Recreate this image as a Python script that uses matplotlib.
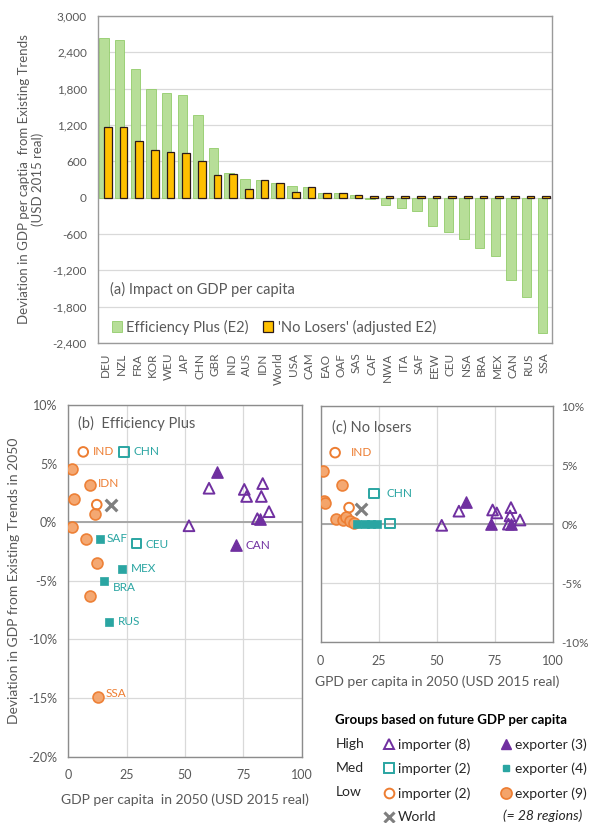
import numpy as np
import matplotlib.pyplot as plt
from matplotlib.lines import Line2D
from matplotlib.ticker import FuncFormatter

plt.rcParams['font.family'] = ['Lato', 'DejaVu Sans']

GREY = '#595959'
GRID = '#D9D9D9'
FRAME = '#8C8C8C'
ORANGE = '#ED7D31'
ORANGE_FILL = '#F4A46A'
TEAL = '#2AA5A2'
PURPLE = '#7030A0'

# (a) deviation in GDP per capita, USD 2015
regions = ['DEU', 'NZL', 'FRA', 'KOR', 'WEU', 'JAP', 'CHN', 'GBR', 'IND', 'AUS',
           'IDN', 'World', 'USA', 'CAM', 'EAO', 'OAF', 'SAS', 'CAF', 'NWA', 'ITA',
           'SAF', 'EEW', 'CEU', 'NSA', 'BRA', 'MEX', 'CAN', 'RUS', 'SSA']
eff_plus = [2640, 2610, 2120, 1790, 1730, 1700, 1370, 820, 400, 310,
            300, 250, 195, 175, 75, 80, 45, -20, -120, -165,
            -220, -460, -560, -675, -835, -965, -1360, -1645, -2230]
no_losers = [1170, 1160, 940, 790, 760, 740, 610, 370, 390, 135,
             290, 235, 90, 170, 75, 75, 40, 25, 25, 25,
             25, 25, 25, 25, 25, 25, 25, 25, 25]

# (b) Efficiency Plus: GDP per capita 2050 (x) vs deviation in % (y)
b_hi_imp_x = [51.7, 60.3, 75.4, 76.4, 83.3, 82.7, 86.0, 81.0]
b_hi_imp_y = [-0.3, 2.9, 2.8, 2.2, 3.3, 2.2, 0.9, 0.3]
b_hi_exp_x = [63.6, 71.9, 82.0]
b_hi_exp_y = [4.3, -1.9, 0.3]
b_med_imp_x = [23.9, 29.3]
b_med_imp_y = [6.0, -1.8]
b_med_exp_x = [13.6, 23.1, 15.4, 17.3]
b_med_exp_y = [-1.4, -4.0, -5.0, -8.5]
b_low_imp_x = [6.4, 12.2]
b_low_imp_y = [6.0, 1.5]
b_low_exp_x = [1.5, 9.3, 2.4, 11.4, 1.7, 7.4, 12.4, 9.3, 12.6]
b_low_exp_y = [4.5, 3.2, 2.0, 0.7, -0.4, -1.4, -3.5, -6.3, -14.9]
b_world = (18.3, 1.45)

# (c) No losers
c_hi_imp_x = [52.1, 59.5, 74.0, 75.8, 81.9, 81.5, 85.8, 80.8]
c_hi_imp_y = [-0.1, 1.1, 1.2, 0.95, 1.4, 0.7, 0.35, 0.0]
c_hi_exp_x = [62.4, 73.2, 81.8]
c_hi_exp_y = [1.9, 0.0, 0.0]
c_med_imp_x = [22.9, 29.8]
c_med_imp_y = [2.6, 0.05]
c_med_exp_x = [15.5, 19.1, 21.7, 24.1]
c_med_exp_y = [0.05, 0.05, 0.05, 0.05]
c_low_imp_x = [6.2, 12.2]
c_low_imp_y = [6.05, 1.4]
c_low_exp_x = [0.9, 9.0, 1.6, 1.9, 6.6, 9.7, 11.0, 12.4, 14.5]
c_low_exp_y = [4.5, 3.3, 2.0, 1.8, 0.4, 0.35, 0.6, 0.3, 0.1]
c_world = (17.3, 1.3)

# labelled points: (name, x, y, dx, dy in points, colour)
b_labels = [('IND', 6.4, 6.0, 7, 0, ORANGE), ('CHN', 23.9, 6.0, 6.5, 0, TEAL),
            ('IDN', 9.3, 3.2, 6, 1, ORANGE), ('SAF', 13.6, -1.4, 5, 0, TEAL),
            ('CEU', 29.3, -1.8, 6, -1, TEAL), ('MEX', 23.1, -4.0, 6.5, 0.5, TEAL),
            ('BRA', 15.4, -5.0, 6.5, -5, TEAL), ('RUS', 17.3, -8.5, 6.5, 0, TEAL),
            ('SSA', 12.6, -14.9, 6, 2.5, ORANGE), ('CAN', 71.9, -1.9, 7, -0.5, PURPLE)]
c_labels = [('IND', 6.2, 6.05, 11, 0, ORANGE), ('CHN', 22.9, 2.6, 9, 0, TEAL)]

W, H = 590, 823
fig = plt.figure(figsize=(W / 100, H / 100), dpi=100)


def px_axes(l, t, r, b):
    return fig.add_axes([l / W, 1 - b / H, (r - l) / W, (b - t) / H])


def frame(ax, color=FRAME):
    for s in ax.spines.values():
        s.set_color(color)
        s.set_linewidth(1.0)


# ---- (a) bar chart ----
ax = px_axes(98, 16, 552, 343)
x = np.arange(len(regions))
ax.bar(x - 0.12, eff_plus, width=0.6, color='#B7DE98', edgecolor='#92CC6A',
       linewidth=0.6, label='Efficiency Plus (E2)', zorder=2)
ax.bar(x + 0.13, no_losers, width=0.49, color='#FFC000', edgecolor='#2B1A1A',
       linewidth=0.9, label="'No Losers' (adjusted E2)", zorder=3)
ax.set_xlim(-0.5, len(regions) - 0.5)
ax.set_ylim(-2400, 3000)
ax.set_yticks(np.arange(-2400, 3001, 600))
ax.yaxis.set_major_formatter(FuncFormatter(lambda v, p: f'{v:,.0f}'))
ax.set_xticks(x)
ax.set_xticklabels(regions, rotation=90, fontsize=8.5)
ax.tick_params(axis='x', length=0, pad=7, colors=GREY)
ax.tick_params(axis='y', length=0, pad=8, labelsize=8.5, colors=GREY)
ax.yaxis.grid(True, color=GRID, linewidth=0.9)
ax.set_axisbelow(True)
frame(ax, '#9A9A9A')
ax.set_ylabel('Deviation in GDP per captia  from Existing Trends\n(USD 2015 real)',
              fontsize=9.5, color=GREY, labelpad=6, linespacing=1.1)
ax.text(0.027, 0.165, '(a) Impact on GDP per capita', transform=ax.transAxes,
        va='center', fontsize=10.5, color=GREY)
ax.legend(loc='center left', bbox_to_anchor=(0.03, 0.049), ncol=2, frameon=False,
          fontsize=10.5, handlelength=0.7, handleheight=0.7, handletextpad=0.3,
          columnspacing=1.0, borderpad=0, borderaxespad=0, labelcolor=GREY)


def scatter_groups(ax, d):
    (hix, hiy, hex_, hey, mix, miy, mex, mey, lix, liy, lex, ley, world) = d
    ax.scatter(lex, ley, s=62, marker='o', facecolor=ORANGE_FILL, edgecolor=ORANGE,
               linewidth=1.2, alpha=0.95, zorder=3)
    ax.scatter(lix, liy, s=48, marker='o', facecolor='none', edgecolor=ORANGE,
               linewidth=1.4, zorder=4)
    ax.scatter(mex, mey, s=30, marker='s', facecolor=TEAL, edgecolor=TEAL,
               linewidth=0.5, zorder=4)
    ax.scatter(mix, miy, s=48, marker='s', facecolor='none', edgecolor=TEAL,
               linewidth=1.4, zorder=4)
    ax.scatter(hix, hiy, s=60, marker='^', facecolor='none', edgecolor=PURPLE,
               linewidth=1.4, zorder=4)
    ax.scatter(hex_, hey, s=66, marker='^', facecolor=PURPLE, edgecolor=PURPLE,
               linewidth=1.0, zorder=4)
    ax.scatter([world[0]], [world[1]], s=70, marker='x', color='#7F7F7F',
               linewidth=2.3, zorder=5)


def scatter_axes(ax, ylo, yhi):
    ax.set_xlim(0, 100)
    ax.set_ylim(ylo, yhi)
    ax.set_xticks([0, 25, 50, 75, 100])
    ax.set_yticks(np.arange(ylo, yhi + 1, 5))
    ax.yaxis.set_major_formatter(FuncFormatter(lambda v, p: f'{v:.0f}%'))
    ax.grid(True, color=GRID, linewidth=0.9)
    ax.set_axisbelow(True)
    ax.axhline(0, color='#A6A6A6', linewidth=1.4, zorder=1)
    ax.tick_params(length=0, labelsize=9, colors=GREY)
    ax.tick_params(axis='x', pad=9)
    frame(ax)


# ---- (b) Efficiency Plus ----
axb = px_axes(68.3, 405, 301.7, 756.7)
scatter_axes(axb, -20, 10)
axb.tick_params(axis='y', pad=8)
scatter_groups(axb, (b_hi_imp_x, b_hi_imp_y, b_hi_exp_x, b_hi_exp_y,
                     b_med_imp_x, b_med_imp_y, b_med_exp_x, b_med_exp_y,
                     b_low_imp_x, b_low_imp_y, b_low_exp_x, b_low_exp_y, b_world))
for name, px_, py_, dx, dy, col in b_labels:
    axb.annotate(name, (px_, py_), xytext=(dx, dy), textcoords='offset points',
                 va='center', ha='left', fontsize=8.5, color=col)
axb.text(0.04, 0.948, '(b)  Efficiency Plus', transform=axb.transAxes,
         va='center', fontsize=10.5, color=GREY)
axb.set_xlabel('GDP per capita  in 2050 (USD 2015 real)', fontsize=10,
               color=GREY, labelpad=9)
axb.set_ylabel('Deviation in GDP from Existing Trends in 2050', fontsize=10,
               color=GREY, labelpad=6)

# ---- (c) No losers ----
axc = px_axes(320.7, 406, 553, 642.3)
scatter_axes(axc, -10, 10)
axc.yaxis.tick_right()
axc.tick_params(axis='y', pad=6, labelsize=8.5)
scatter_groups(axc, (c_hi_imp_x, c_hi_imp_y, c_hi_exp_x, c_hi_exp_y,
                     c_med_imp_x, c_med_imp_y, c_med_exp_x, c_med_exp_y,
                     c_low_imp_x, c_low_imp_y, c_low_exp_x, c_low_exp_y, c_world))
for name, px_, py_, dx, dy, col in c_labels:
    axc.annotate(name, (px_, py_), xytext=(dx, dy), textcoords='offset points',
                 va='center', ha='left', fontsize=8.5, color=col)
axc.text(0.05, 0.91, '(c) No losers', transform=axc.transAxes,
         va='center', fontsize=10.5, color=GREY)
axc.set_xlabel('GPD per capita in 2050 (USD 2015 real)', fontsize=10,
               color=GREY, labelpad=6)

# ---- group legend ----
fig.text(335 / W, 1 - 720 / H, 'Groups based on future GDP per capita',
         fontsize=9.5, fontweight='bold', va='center', color='black')
for lab, yy in [('High', 744.3), ('Med', 767.7), ('Low', 792.3)]:
    fig.text(335.5 / W, 1 - yy / H, lab, fontsize=10, va='center', color='#262626')
fig.text(503 / W, 1 - 815.7 / H, '(= 28 regions)', fontsize=10, style='italic',
         va='center', color='#262626')

handles = [
    Line2D([], [], ls='none', marker='^', ms=7, mfc='none', mec=PURPLE, mew=1.4),
    Line2D([], [], ls='none', marker='s', ms=6.5, mfc='none', mec=TEAL, mew=1.4),
    Line2D([], [], ls='none', marker='o', ms=7, mfc='none', mec=ORANGE, mew=1.4),
    Line2D([], [], ls='none', marker='x', ms=7, color='#7F7F7F', mew=2.2),
    Line2D([], [], ls='none', marker='^', ms=7.5, mfc=PURPLE, mec=PURPLE),
    Line2D([], [], ls='none', marker='s', ms=5, mfc=TEAL, mec=TEAL),
    Line2D([], [], ls='none', marker='o', ms=8, mfc=ORANGE_FILL, mec=ORANGE, mew=1.2),
    Line2D([], [], ls='none'),
]
labels = ['importer (8)', 'importer (2)', 'importer (2)', 'World',
          'exporter (3)', 'exporter (4)', 'exporter (9)', '']
fig.legend(handles, labels, ncol=2, loc='upper left',
           bbox_to_anchor=(383 / W, 1 - 738 / H), frameon=False, fontsize=10,
           handlelength=0.8, handletextpad=0.25, columnspacing=2.2,
           labelspacing=0.86, borderpad=0, borderaxespad=0, labelcolor='#262626')

fig.savefig('out.png', dpi=100)
